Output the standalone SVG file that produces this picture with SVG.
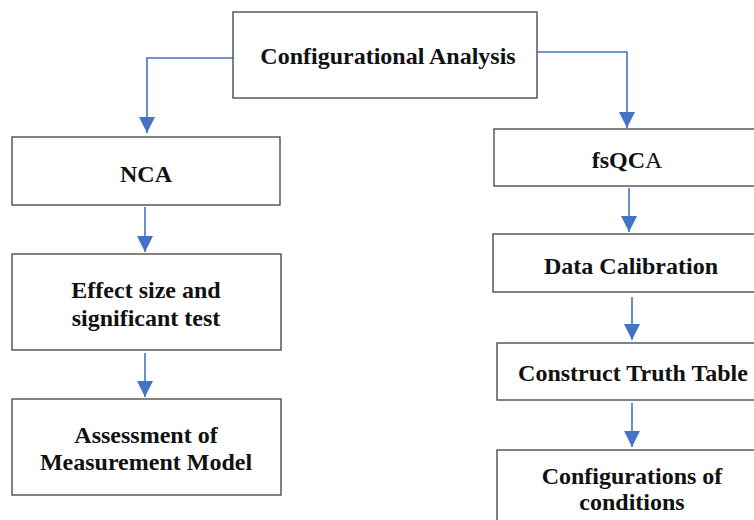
<svg xmlns="http://www.w3.org/2000/svg" width="754" height="520" viewBox="0 0 754 520">
<style>
.box{fill:#fff;stroke:#404040;stroke-width:1.3}
.t{font-family:"Liberation Serif","Times New Roman",serif;font-weight:bold;font-size:24px;fill:#111;text-anchor:middle}
.c{fill:none;stroke:#4472C4;stroke-width:1.6}
</style>
<defs>
<marker id="ah" markerUnits="userSpaceOnUse" markerWidth="16" markerHeight="16" refX="16" refY="8" orient="auto">
<path d="M0,0 L16,8 L0,16 z" fill="#4472C4"/>
</marker>
</defs>
<rect width="754" height="520" fill="#fff"/>
<g id="connectors">
<path class="c" d="M233,58 H147 V133" marker-end="url(#ah)"/>
<path class="c" d="M537,52 H627 V128" marker-end="url(#ah)"/>
<path class="c" d="M145,207 V252" marker-end="url(#ah)"/>
<path class="c" d="M145,353 V397" marker-end="url(#ah)"/>
<path class="c" d="M629,188 V232" marker-end="url(#ah)"/>
<path class="c" d="M632,297 V340" marker-end="url(#ah)"/>
<path class="c" d="M632,403 V447" marker-end="url(#ah)"/>
</g>
<g id="config">
<rect class="box" x="233" y="12" width="304" height="86"/>
<text class="t" x="388" y="64">Configurational Analysis</text>
</g>
<g id="nca">
<rect class="box" x="12" y="137" width="268" height="68"/>
<text class="t" x="146" y="182">NCA</text>
</g>
<g id="effect">
<rect class="box" x="12" y="254" width="269" height="96"/>
<text class="t" x="146" y="298">Effect size and</text>
<text class="t" x="146" y="326">significant test</text>
</g>
<g id="assessment">
<rect class="box" x="12" y="399" width="269" height="96"/>
<text class="t" x="146" y="443">Assessment of</text>
<text class="t" x="146" y="470">Measurement Model</text>
</g>
<g id="fsqca">
<rect class="box" x="494" y="129" width="280" height="57"/>
<text class="t" x="627" y="168">fsQC<tspan font-weight="normal">A</tspan></text>
</g>
<g id="calibration">
<rect class="box" x="493" y="234" width="280" height="58"/>
<text class="t" x="631" y="274">Data Calibration</text>
</g>
<g id="truth">
<rect class="box" x="497" y="343" width="280" height="57"/>
<text class="t" x="633" y="381">Construct Truth Table</text>
</g>
<g id="configurations">
<rect class="box" x="497" y="450" width="280" height="90"/>
<text class="t" x="632" y="484">Configurations of</text>
<text class="t" x="632" y="510">conditions</text>
</g>
</svg>
